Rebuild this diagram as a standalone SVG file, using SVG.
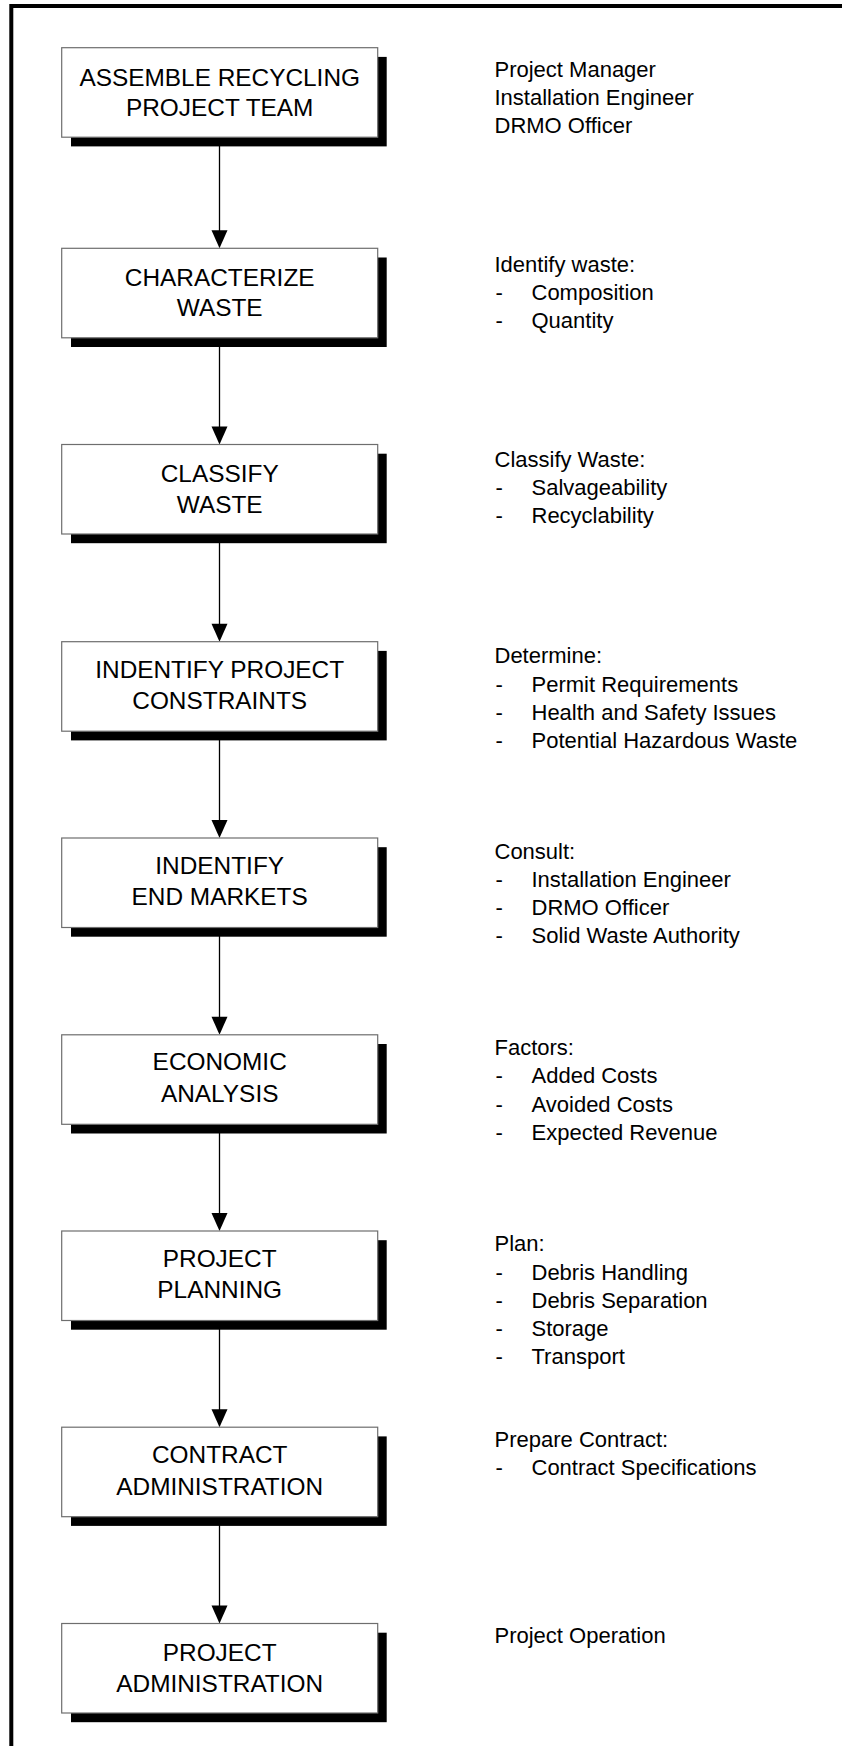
<svg xmlns="http://www.w3.org/2000/svg" width="842" height="1746" viewBox="0 0 842 1746">
<defs>
<style>
.frame{fill:none;stroke:#000;stroke-width:4;stroke-linejoin:miter}
.shadow{fill:#000}
.box{fill:#fff;stroke:#6e6e6e;stroke-width:1.2}
.bt{font-family:"Liberation Sans",Arial,sans-serif;font-size:24.4px;fill:#000;text-anchor:middle}
.rt{font-family:"Liberation Sans",Arial,sans-serif;font-size:22px;fill:#000}
.ln{stroke:#000;stroke-width:1.3;fill:none}
.ah{fill:#000}
</style>
</defs>
<rect width="842" height="1746" fill="#fff"/>
<path class="frame" d="M11.3 1750 V6 H846"/>

<g id="connectors">
<line class="ln" x1="219.5" y1="137" x2="219.5" y2="231"/><polygon class="ah" points="211.5,230.3 227.5,230.3 219.5,248.3"/>
<line class="ln" x1="219.5" y1="337.8" x2="219.5" y2="427"/><polygon class="ah" points="211.5,426.5 227.5,426.5 219.5,444.5"/>
<line class="ln" x1="219.5" y1="534" x2="219.5" y2="624"/><polygon class="ah" points="211.5,623.7 227.5,623.7 219.5,641.7"/>
<line class="ln" x1="219.5" y1="731.2" x2="219.5" y2="821"/><polygon class="ah" points="211.5,820 227.5,820 219.5,838"/>
<line class="ln" x1="219.5" y1="927.5" x2="219.5" y2="1017"/><polygon class="ah" points="211.5,1016.8 227.5,1016.8 219.5,1034.8"/>
<line class="ln" x1="219.5" y1="1124.3" x2="219.5" y2="1214"/><polygon class="ah" points="211.5,1213 227.5,1213 219.5,1231"/>
<line class="ln" x1="219.5" y1="1320.5" x2="219.5" y2="1410"/><polygon class="ah" points="211.5,1409.2 227.5,1409.2 219.5,1427.2"/>
<line class="ln" x1="219.5" y1="1516.7" x2="219.5" y2="1606"/><polygon class="ah" points="211.5,1605.5 227.5,1605.5 219.5,1623.5"/>
</g>

<g id="n1">
<rect class="shadow" x="71" y="56.9" width="315.7" height="89.5"/>
<rect class="box" x="61.7" y="47.7" width="316" height="89.5"/>
<text class="bt" x="219.7" y="86">ASSEMBLE RECYCLING</text>
<text class="bt" x="219.7" y="115.5">PROJECT TEAM</text>
</g>
<g id="n2">
<rect class="shadow" x="71" y="257.5" width="315.7" height="89.5"/>
<rect class="box" x="61.7" y="248.3" width="316" height="89.5"/>
<text class="bt" x="219.7" y="285.5">CHARACTERIZE</text>
<text class="bt" x="219.7" y="316.3">WASTE</text>
</g>
<g id="n3">
<rect class="shadow" x="71" y="453.7" width="315.7" height="89.5"/>
<rect class="box" x="61.7" y="444.5" width="316" height="89.5"/>
<text class="bt" x="219.7" y="481.7">CLASSIFY</text>
<text class="bt" x="219.7" y="512.7">WASTE</text>
</g>
<g id="n4">
<rect class="shadow" x="71" y="650.9" width="315.7" height="89.5"/>
<rect class="box" x="61.7" y="641.7" width="316" height="89.5"/>
<text class="bt" x="219.7" y="677.5">INDENTIFY PROJECT</text>
<text class="bt" x="219.7" y="709.3">CONSTRAINTS</text>
</g>
<g id="n5">
<rect class="shadow" x="71" y="847.2" width="315.7" height="89.5"/>
<rect class="box" x="61.7" y="838" width="316" height="89.5"/>
<text class="bt" x="219.7" y="874.3">INDENTIFY</text>
<text class="bt" x="219.7" y="905">END MARKETS</text>
</g>
<g id="n6">
<rect class="shadow" x="71" y="1044" width="315.7" height="89.5"/>
<rect class="box" x="61.7" y="1034.8" width="316" height="89.5"/>
<text class="bt" x="219.7" y="1070.3">ECONOMIC</text>
<text class="bt" x="219.7" y="1101.7">ANALYSIS</text>
</g>
<g id="n7">
<rect class="shadow" x="71" y="1240.2" width="315.7" height="89.5"/>
<rect class="box" x="61.7" y="1231" width="316" height="89.5"/>
<text class="bt" x="219.7" y="1267.3">PROJECT</text>
<text class="bt" x="219.7" y="1298.3">PLANNING</text>
</g>
<g id="n8">
<rect class="shadow" x="71" y="1436.4" width="315.7" height="89.5"/>
<rect class="box" x="61.7" y="1427.2" width="316" height="89.5"/>
<text class="bt" x="219.7" y="1463.3">CONTRACT</text>
<text class="bt" x="219.7" y="1495">ADMINISTRATION</text>
</g>
<g id="n9">
<rect class="shadow" x="71" y="1632.7" width="315.7" height="89.5"/>
<rect class="box" x="61.7" y="1623.5" width="316" height="89.5"/>
<text class="bt" x="219.7" y="1661">PROJECT</text>
<text class="bt" x="219.7" y="1691.7">ADMINISTRATION</text>
</g>

<g id="notes1">
<text class="rt" x="494.5" y="76.7">Project Manager</text>
<text class="rt" x="494.5" y="105">Installation Engineer</text>
<text class="rt" x="494.5" y="133.3">DRMO Officer</text>
</g>
<g id="notes2">
<text class="rt" x="494.5" y="271.7">Identify waste:</text>
<text class="rt" x="495.5" y="300">-</text><text class="rt" x="531.5" y="300">Composition</text>
<text class="rt" x="495.5" y="328">-</text><text class="rt" x="531.5" y="328">Quantity</text>
</g>
<g id="notes3">
<text class="rt" x="494.5" y="466.7">Classify Waste:</text>
<text class="rt" x="495.5" y="495">-</text><text class="rt" x="531.5" y="495">Salvageability</text>
<text class="rt" x="495.5" y="523.3">-</text><text class="rt" x="531.5" y="523.3">Recyclability</text>
</g>
<g id="notes4">
<text class="rt" x="494.5" y="663.3">Determine:</text>
<text class="rt" x="495.5" y="691.7">-</text><text class="rt" x="531.5" y="691.7">Permit Requirements</text>
<text class="rt" x="495.5" y="720">-</text><text class="rt" x="531.5" y="720">Health and Safety Issues</text>
<text class="rt" x="495.5" y="747.7">-</text><text class="rt" x="531.5" y="747.7">Potential Hazardous Waste</text>
</g>
<g id="notes5">
<text class="rt" x="494.5" y="859">Consult:</text>
<text class="rt" x="495.5" y="887.3">-</text><text class="rt" x="531.5" y="887.3">Installation Engineer</text>
<text class="rt" x="495.5" y="915.3">-</text><text class="rt" x="531.5" y="915.3">DRMO Officer</text>
<text class="rt" x="495.5" y="943.3">-</text><text class="rt" x="531.5" y="943.3">Solid Waste Authority</text>
</g>
<g id="notes6">
<text class="rt" x="494.5" y="1055">Factors:</text>
<text class="rt" x="495.5" y="1083.3">-</text><text class="rt" x="531.5" y="1083.3">Added Costs</text>
<text class="rt" x="495.5" y="1111.7">-</text><text class="rt" x="531.5" y="1111.7">Avoided Costs</text>
<text class="rt" x="495.5" y="1140">-</text><text class="rt" x="531.5" y="1140">Expected Revenue</text>
</g>
<g id="notes7">
<text class="rt" x="494.5" y="1250.7">Plan:</text>
<text class="rt" x="495.5" y="1279.7">-</text><text class="rt" x="531.5" y="1279.7">Debris Handling</text>
<text class="rt" x="495.5" y="1307.7">-</text><text class="rt" x="531.5" y="1307.7">Debris Separation</text>
<text class="rt" x="495.5" y="1335.8">-</text><text class="rt" x="531.5" y="1335.8">Storage</text>
<text class="rt" x="495.5" y="1364.3">-</text><text class="rt" x="531.5" y="1364.3">Transport</text>
</g>
<g id="notes8">
<text class="rt" x="494.5" y="1447">Prepare Contract:</text>
<text class="rt" x="495.5" y="1475">-</text><text class="rt" x="531.5" y="1475">Contract Specifications</text>
</g>
<g id="notes9">
<text class="rt" x="494.5" y="1643.3">Project Operation</text>
</g>
</svg>
